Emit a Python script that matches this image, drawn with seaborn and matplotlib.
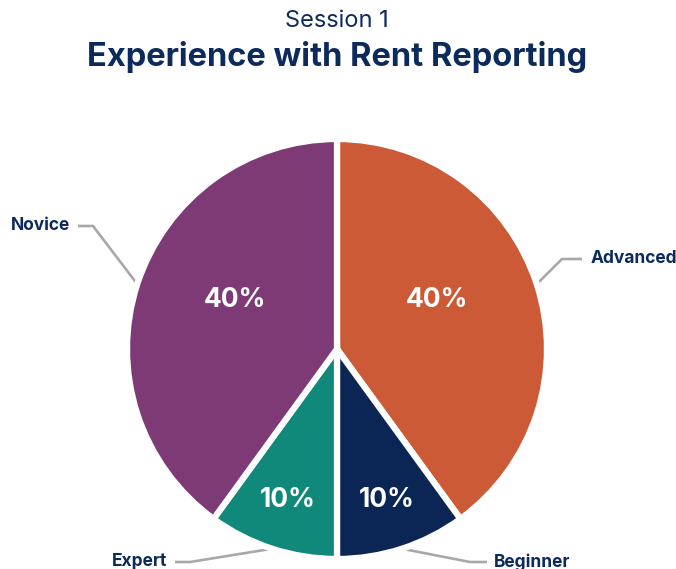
import matplotlib
matplotlib.use("Agg")
import matplotlib.pyplot as plt
import seaborn as sns
import numpy as np

# ---- data ----
categories = ["Advanced", "Beginner", "Expert", "Novice"]
values = [40, 10, 10, 40]
pct_labels = ["40%", "10%", "10%", "40%"]
colors = ["#CC5A36", "#0B2555", "#10897A", "#7E3A75"]
subtitle = "Session 1"
title = "Experience with Rent Reporting"

sns.set_theme(style="white")
plt.rcParams["font.family"] = ["Inter", "DejaVu Sans"]

W, H = 676, 569
fig = plt.figure(figsize=(W / 100, H / 100), dpi=100)
ax = fig.add_axes([0, 0, 1, 1])

NAVY = "#0C2A5B"
cx, cy, R = 337, H - 349, 210

wedges, _ = ax.pie(values, colors=colors, startangle=90, counterclock=False,
                   center=(cx, cy), radius=R, frame=True,
                   wedgeprops=dict(edgecolor="white", linewidth=4.5))
ax.set_xlim(0, W)
ax.set_ylim(0, H)
ax.axis("off")

# percent labels (pixel positions, y from top)
pct_pos = [(437, 300), (387, 500), (288, 500), (235, 300)]
for (px, py), t in zip(pct_pos, pct_labels):
    ax.text(px, H - py, t, color="white", fontsize=19, fontweight="bold",
            ha="center", va="center")

# leader lines and category labels
label_specs = {
    "Advanced": dict(elbow=(562, 259), end=(582, 259), text=(591, 258), ha="left"),
    "Beginner": dict(elbow=(470, 562), end=(487, 562), text=(494, 562), ha="left"),
    "Expert": dict(elbow=(190, 562), end=(175, 562), text=(167, 562), ha="right"),
    "Novice": dict(elbow=(93, 226), end=(78, 226), text=(70, 225), ha="right"),
}
for w, cat in zip(wedges, categories):
    ang = np.deg2rad((w.theta1 + w.theta2) / 2)
    sx, sy = cx + R * np.cos(ang), cy + R * np.sin(ang)
    s = label_specs[cat]
    xs = [sx, s["elbow"][0], s["end"][0]]
    ys = [sy, H - s["elbow"][1], H - s["end"][1]]
    ax.plot(xs, ys, color="#A8A8A8", lw=1.9, solid_capstyle="butt", zorder=0.5)
    ax.text(s["text"][0], H - s["text"][1], cat, color=NAVY, fontsize=12.5,
            fontweight="bold", ha=s["ha"], va="center")

fig.text(337 / W, 1 - 21 / H, subtitle, color=NAVY, fontsize=17,
         ha="center", va="center")
fig.text(337 / W, 1 - 57 / H, title, color=NAVY, fontsize=23.5, fontweight="bold",
         ha="center", va="center")

fig.savefig("out.png", dpi=100, facecolor="white")
